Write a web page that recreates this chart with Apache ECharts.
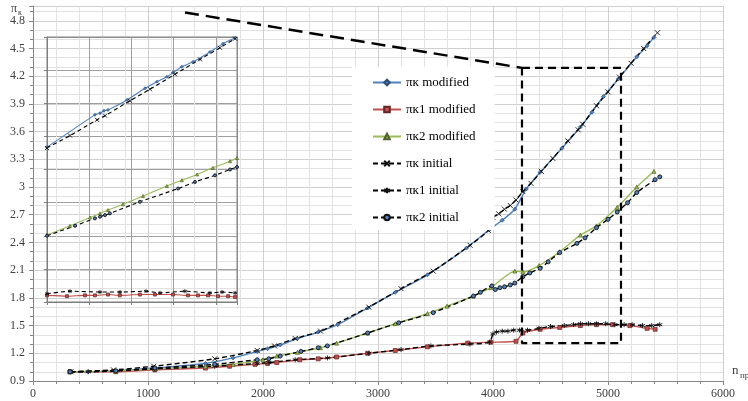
<!DOCTYPE html>
<html>
<head>
<meta charset="utf-8">
<script src="https://cdn.jsdelivr.net/npm/echarts@6/dist/echarts.min.js"></script>
<style>html,body{margin:0;padding:0;background:#fff}#chart{width:748px;height:401px}</style>
</head>
<body>
<div id="chart"></div>
<script>
// main chart: rotor speed n_пр vs pressure ratio
var pkModX = [322, 480, 720, 1060, 1500, 1740, 1950, 2040, 2150, 2300, 2480, 2650, 2910, 3150, 3430, 3770, 3970, 4080, 4190, 4290, 4410, 4600, 4760, 4860, 4960, 5090, 5250, 5340, 5400];
var pkModY = [1.00, 1.00, 1.01, 1.04, 1.09, 1.15, 1.22, 1.25, 1.29, 1.36, 1.43, 1.51, 1.69, 1.86, 2.05, 2.34, 2.54, 2.64, 2.76, 2.98, 3.16, 3.42, 3.65, 3.81, 3.98, 4.17, 4.41, 4.53, 4.62];

var pk1ModX = [322, 720, 1060, 1500, 1710, 1930, 2040, 2120, 2320, 2480, 2640, 2910, 3150, 3430, 3780, 3980, 4200, 4260, 4410, 4580, 4760, 4900, 5040, 5190, 5340, 5410];
var pk1ModY = [1.00, 1.00, 1.02, 1.04, 1.06, 1.08, 1.09, 1.10, 1.13, 1.14, 1.16, 1.20, 1.23, 1.27, 1.31, 1.32, 1.33, 1.42, 1.46, 1.48, 1.50, 1.51, 1.51, 1.50, 1.47, 1.46];

var pk2ModX = [322, 720, 1060, 1500, 1740, 2000, 2120, 2300, 2500, 2640, 2910, 3150, 3430, 3600, 3830, 3980, 4190, 4260, 4400, 4580, 4760, 4900, 5080, 5250, 5400];
var pk2ModY = [1.00, 1.01, 1.03, 1.06, 1.08, 1.13, 1.17, 1.21, 1.26, 1.31, 1.42, 1.52, 1.63, 1.71, 1.82, 1.91, 2.09, 2.08, 2.15, 2.30, 2.48, 2.58, 2.78, 3.00, 3.17];

var pkIniX = [330, 700, 1050, 1580, 1950, 2100, 2280, 2500, 2920, 3200, 3480, 3800, 3960, 4000, 4050, 4100, 4150, 4200, 4260, 4330, 4420, 4520, 4650, 4740, 4780, 4900, 5000, 5100, 5200, 5310, 5430];
var pkIniY = [1.00, 1.02, 1.06, 1.14, 1.23, 1.28, 1.36, 1.44, 1.70, 1.90, 2.09, 2.37, 2.53, 2.67, 2.71, 2.76, 2.80, 2.86, 2.95, 3.04, 3.17, 3.31, 3.50, 3.62, 3.68, 3.88, 4.03, 4.19, 4.34, 4.50, 4.67];

var pk1IniX = [322, 480, 1060, 1580, 1950, 2050, 2280, 2560, 2920, 3200, 3460, 3800, 3970, 4000, 4030, 4080, 4130, 4180, 4230, 4300, 4400, 4500, 4620, 4700, 4760, 4830, 4900, 4980, 5060, 5140, 5210, 5300, 5380, 5450];
var pk1IniY = [1.00, 1.00, 1.03, 1.06, 1.09, 1.10, 1.13, 1.15, 1.20, 1.24, 1.28, 1.30, 1.32, 1.41, 1.43, 1.44, 1.44, 1.45, 1.45, 1.45, 1.47, 1.49, 1.50, 1.51, 1.52, 1.52, 1.52, 1.52, 1.51, 1.51, 1.51, 1.50, 1.50, 1.51];

var pk2IniX = [322, 720, 1060, 1580, 1950, 2050, 2150, 2330, 2480, 2560, 2910, 3180, 3480, 3830, 3890, 3990, 4020, 4060, 4100, 4150, 4190, 4260, 4320, 4410, 4480, 4580, 4730, 4800, 4900, 5000, 5080, 5170, 5250, 5410, 5450];
var pk2IniY = [1.00, 1.01, 1.04, 1.08, 1.13, 1.14, 1.17, 1.22, 1.26, 1.28, 1.42, 1.53, 1.64, 1.82, 1.86, 1.93, 1.89, 1.91, 1.92, 1.94, 1.96, 2.03, 2.07, 2.12, 2.19, 2.29, 2.39, 2.45, 2.56, 2.65, 2.73, 2.83, 2.94, 3.08, 3.11];

// inset: zoomed part 4250..5150
var inPkModX = [4250, 4477, 4501, 4520, 4539, 4629, 4714, 4771, 4818, 4847, 4889, 4942, 5022, 5084, 5141];
var inPkModY = [3.17, 3.56, 3.58, 3.61, 3.62, 3.74, 3.88, 3.96, 4.02, 4.07, 4.14, 4.20, 4.32, 4.42, 4.49];
var inPkIniX = [4250, 4359, 4487, 4525, 4643, 4738, 4856, 4975, 5069, 5141];
var inPkIniY = [3.16, 3.31, 3.50, 3.55, 3.73, 3.87, 4.05, 4.23, 4.37, 4.48];
var inPk2ModX = [4250, 4359, 4454, 4501, 4539, 4610, 4705, 4818, 4889, 4961, 5036, 5117, 5150];
var inPk2ModY = [2.11, 2.22, 2.32, 2.37, 2.41, 2.48, 2.58, 2.70, 2.77, 2.84, 2.92, 3.00, 3.04];
var inPk2IniX = [4250, 4383, 4477, 4501, 4525, 4548, 4690, 4871, 4951, 5046, 5117, 5150];
var inPk2IniY = [2.10, 2.22, 2.31, 2.33, 2.35, 2.37, 2.51, 2.67, 2.75, 2.83, 2.90, 2.93];
var inPk1ModX = [4250, 4345, 4430, 4477, 4539, 4595, 4690, 4761, 4847, 4918, 4965, 5013, 5060, 5108, 5141];
var inPk1ModY = [1.38, 1.37, 1.38, 1.38, 1.39, 1.38, 1.39, 1.39, 1.39, 1.38, 1.38, 1.38, 1.37, 1.37, 1.36];
var inPk1IniX = [4250, 4359, 4501, 4596, 4719, 4785, 4903, 5022, 5079, 5141];
var inPk1IniY = [1.40, 1.43, 1.42, 1.42, 1.43, 1.41, 1.43, 1.41, 1.42, 1.41];

// dashed zoom frame and leader line
var leaderX = [1322, 4252];
var leaderY = [4.89, 4.29];
var frameX = [4252, 5113, 5113, 4252, 4252];
var frameY = [4.29, 4.29, 1.31, 1.31, 4.29];

var names = ['πк modified', 'πк1 modified', 'πк2 modified', 'πк initial', 'πк1 initial', 'πк2 initial'];

function zip(xs, ys) {
    var out = [];
    for (var i = 0; i < xs.length; i++) out.push([xs[i], ys[i]]);
    return out;
}

var SERIF = '"Liberation Serif", "DejaVu Serif", serif';
var crossPath = 'path://M0,0L10,10M10,0L0,10';
var starPath = 'path://M5,0L5,10M0.7,2.5L9.3,7.5M0.7,7.5L9.3,2.5';

// ax = 0 main grid, 1 inset (smaller marks there)
function modSeries(name, xs, ys, color, edge, symbol, ax) {
    return {
        name: name, type: 'line', xAxisIndex: ax, yAxisIndex: ax,
        data: zip(xs, ys), smooth: 0.2, showAllSymbol: true,
        symbol: symbol, symbolSize: ax ? 3 : 4,
        lineStyle: { color: color, width: ax ? 1.1 : 1.4 },
        itemStyle: { color: color, borderColor: edge, borderWidth: 0.7 },
        emphasis: { disabled: true }, animation: false
    };
}
function iniSeries(name, xs, ys, symbol, fill, ax) {
    var size = symbol === 'circle' ? 4 : 5;
    return {
        name: name, type: 'line', xAxisIndex: ax, yAxisIndex: ax,
        data: zip(xs, ys), smooth: 0.2, showAllSymbol: true,
        symbol: symbol, symbolSize: ax ? size - 1 : size,
        lineStyle: { color: '#000', width: ax ? 1.1 : 1.4, type: ax ? [4, 3] : [5, 3] },
        itemStyle: { color: fill, borderColor: '#111', borderWidth: 0.9 },
        emphasis: { disabled: true }, animation: false
    };
}

var blue = '#4F81BD', red = '#C0504D', green = '#9BBB59';

var series = [
    modSeries(names[0], pkModX, pkModY, blue, '#2c4d75', 'diamond', 0),
    modSeries(names[1], pk1ModX, pk1ModY, red, '#632523', 'rect', 0),
    modSeries(names[2], pk2ModX, pk2ModY, green, '#4f6228', 'triangle', 0),
    iniSeries(names[3], pkIniX, pkIniY, crossPath, '#000', 0),
    iniSeries(names[4], pk1IniX, pk1IniY, starPath, '#000', 0),
    iniSeries(names[5], pk2IniX, pk2IniY, 'circle', blue, 0),
    modSeries(names[0], inPkModX, inPkModY, blue, '#2c4d75', 'diamond', 1),
    modSeries(names[1], inPk1ModX, inPk1ModY, red, '#632523', 'rect', 1),
    modSeries(names[2], inPk2ModX, inPk2ModY, green, '#4f6228', 'triangle', 1),
    iniSeries(names[3], inPkIniX, inPkIniY, crossPath, '#000', 1),
    iniSeries(names[4], inPk1IniX, inPk1IniY, starPath, '#000', 1),
    iniSeries(names[5], inPk2IniX, inPk2IniY, 'circle', blue, 1),
    {
        type: 'line', data: zip(leaderX, leaderY), symbol: 'none', silent: true, z: 5,
        lineStyle: { color: '#000', width: 2.5, type: [14, 7] }, animation: false
    },
    {
        type: 'line', data: zip(frameX, frameY), symbol: 'none', silent: true, z: 5,
        lineStyle: { color: '#000', width: 2.2, type: [8, 5] }, animation: false
    }
];

var chart = echarts.init(document.getElementById('chart'));
chart.setOption({
    backgroundColor: '#fff',
    animation: false,
    grid: [
        { left: 33, right: 25, top: 6, bottom: 20 },
        { left: 47, top: 37, width: 190, height: 265, show: true, borderColor: '#7f7f7f', borderWidth: 1, backgroundColor: 'transparent', z: 3 }
    ],
    xAxis: [{
        type: 'value', min: 0, max: 6000, interval: 1000,
        axisLine: { show: true, lineStyle: { color: '#868686' } },
        axisTick: { show: true, length: 4, lineStyle: { color: '#868686' } },
        minorTick: { show: true, splitNumber: 5, length: 3, lineStyle: { color: '#868686' } },
        splitLine: { show: true, lineStyle: { color: '#cfcfcf' } },
        minorSplitLine: { show: true, lineStyle: { color: '#e2e2e2' } },
        axisLabel: {
            color: '#404040', fontFamily: SERIF, fontSize: 12, margin: 7,
            formatter: function (v) { return String(v); }
        }
    }, {
        type: 'value', gridIndex: 1, min: 4250, max: 5150, interval: 200,
        axisLine: { show: true, lineStyle: { color: '#7f7f7f' } },
        axisTick: { show: true, length: 3, lineStyle: { color: '#7f7f7f' } },
        splitLine: { show: true, lineStyle: { color: '#9f9f9f' } },
        axisLabel: { show: false }
    }],
    yAxis: [{
        type: 'value', min: 0.9, max: 4.96, interval: 0.3,
        axisLine: { show: true, lineStyle: { color: '#868686' } },
        axisTick: { show: true, length: 4, lineStyle: { color: '#868686' } },
        minorTick: { show: true, splitNumber: 3, length: 3, lineStyle: { color: '#868686' } },
        splitLine: { show: true, lineStyle: { color: '#cfcfcf' } },
        minorSplitLine: { show: true, lineStyle: { color: '#e2e2e2' } },
        axisLabel: {
            color: '#404040', fontFamily: SERIF, fontSize: 12, margin: 8, showMaxLabel: false,
            formatter: function (v) { return String(+v.toFixed(1)); }
        }
    }, {
        type: 'value', gridIndex: 1, min: 1.3, max: 4.5, interval: 0.4,
        axisLine: { show: true, lineStyle: { color: '#7f7f7f' } },
        axisTick: { show: true, length: 3, lineStyle: { color: '#7f7f7f' } },
        splitLine: { show: true, lineStyle: { color: '#9f9f9f' } },
        axisLabel: { show: false }
    }],
    legend: {
        data: names, orient: 'vertical', left: 352, top: 67,
        backgroundColor: '#fff', padding: [9, 19, 6, 20],
        itemWidth: 28, itemHeight: 7, itemGap: 14,
        textStyle: { fontFamily: SERIF, fontSize: 13, color: '#000' }
    },
    graphic: [
        { type: 'text', left: 11, top: 3, style: { text: 'π', font: '12px ' + SERIF, fill: '#404040' } },
        { type: 'text', left: 18, top: 9, style: { text: 'к', font: '8px ' + SERIF, fill: '#404040' } },
        { type: 'text', left: 732, top: 364, style: { text: 'n', font: '13px ' + SERIF, fill: '#404040' } },
        { type: 'text', left: 740, top: 371, style: { text: 'пр', font: '9px ' + SERIF, fill: '#404040' } }
    ],
    series: series
});
</script>
</body>
</html>
